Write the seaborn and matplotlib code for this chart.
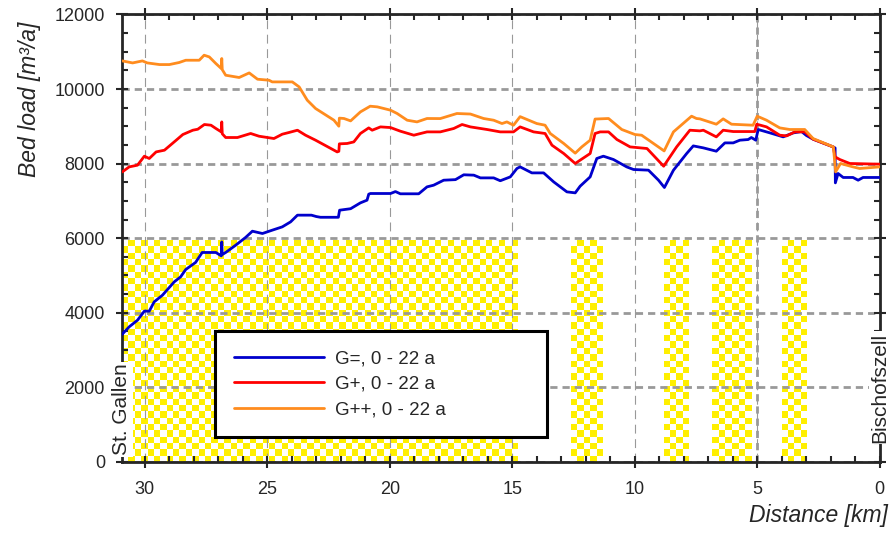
import numpy as np
import matplotlib
matplotlib.use("Agg")
import matplotlib.pyplot as plt
from matplotlib.ticker import MultipleLocator
import seaborn as sns

# distance from Bischofszell [km] and bed load [m3/a]
dist_g0 = [30.92, 30.64, 30.30, 30.02, 29.82, 29.62, 29.28, 28.80, 28.54, 28.33, 27.93, 27.66,
           27.10, 26.88, 26.86, 26.84, 26.70, 26.29, 25.89, 25.61, 25.20, 24.80, 24.39, 24.05,
           23.77, 23.20, 23.00, 22.83, 22.10, 22.05, 21.60, 21.20, 20.93, 20.86, 20.79, 19.97,
           19.77, 19.57, 18.82, 18.48, 18.21, 17.80, 17.32, 16.98, 16.57, 16.30, 15.76, 15.49,
           15.08, 14.81, 14.68, 14.20, 13.72, 13.31, 12.77, 12.43, 12.23, 11.82, 11.55, 11.28,
           10.87, 10.33, 10.05, 9.44, 9.03, 8.79, 8.42, 7.88, 7.61, 7.20, 6.67, 6.32, 5.98,
           5.71, 5.37, 5.24, 5.06, 4.96, 4.48, 3.94, 3.53, 3.19, 2.99, 2.72, 1.90, 1.82, 1.81,
           1.70, 1.49, 1.09, 0.88, 0.68, 0.0]
load_g0 = [3425, 3621, 3800, 4042, 4042, 4291, 4471, 4828, 4962, 5160, 5348, 5616,
           5616, 5525, 5900, 5560, 5616, 5812, 6018, 6187, 6125, 6214, 6303, 6437,
           6617, 6617, 6580, 6560, 6560, 6750, 6790, 6947, 7019, 7180, 7198, 7198,
           7250, 7190, 7190, 7376, 7421, 7555, 7570, 7700, 7690, 7617, 7617, 7540,
           7644, 7869, 7912, 7751, 7751, 7510, 7242, 7215, 7394, 7644, 8137, 8199,
           8110, 7912, 7842, 7824, 7555, 7359, 7823, 8271, 8475, 8422, 8333, 8556, 8556,
           8628, 8646, 8700, 8628, 8915, 8824, 8717, 8824, 8860, 8753, 8655, 8448, 8420, 7483,
           7735, 7628, 7628, 7555, 7628, 7628]

dist_g1 = [30.92, 30.64, 30.30, 30.02, 29.82, 29.54, 29.20, 28.72, 28.45, 28.04, 27.84, 27.57,
           27.30, 27.10, 26.88, 26.86, 26.84, 26.70, 26.22, 25.68, 25.34, 24.73, 24.39, 24.12,
           23.77, 23.44, 23.03, 22.15, 22.08, 22.06, 21.74, 21.47, 21.20, 20.86, 20.72, 20.38,
           19.97, 19.57, 19.02, 18.48, 17.94, 17.39, 17.05, 16.71, 16.03, 15.49, 14.95, 14.68,
           14.13, 13.66, 13.38, 12.90, 12.43, 12.23, 11.82, 11.62, 11.41, 11.07, 10.73, 10.19,
           9.50, 8.82, 8.29, 7.75, 7.34, 7.20, 6.67, 6.39, 5.98, 5.10, 5.02, 4.62, 4.08, 3.80,
           3.46, 3.06, 2.72, 1.90, 1.82, 1.63, 1.22, 0.0]
load_g1 = [7778, 7912, 7958, 8199, 8137, 8314, 8360, 8628, 8780, 8896, 8922, 9049,
           9030, 8942, 8851, 9119, 8800, 8700, 8700, 8808, 8735, 8673, 8789, 8834,
           8896, 8762, 8628, 8314, 8330, 8530, 8540, 8582, 8808, 8958, 8896, 8985,
           8967, 8870, 8762, 8851, 8851, 8942, 9049, 8985, 8915, 8851, 8851, 8985,
           8851, 8808, 8494, 8271, 8003, 8092, 8271, 8808, 8851, 8851, 8647, 8448,
           8405, 7930, 8448, 8896, 8878, 8896, 8717, 8896, 8860, 8860, 9057, 8985, 8762, 8744,
           8851, 8851, 8655, 8448, 8180, 8110, 8003, 7985]

dist_g2 = [30.92, 30.50, 30.10, 29.90, 29.40, 29.00, 28.60, 28.33, 27.78, 27.58, 27.37, 27.10,
           26.88, 26.86, 26.84, 26.70, 26.15, 25.74, 25.40, 24.93, 24.80, 23.98, 23.70, 23.37,
           23.03, 22.28, 22.08, 22.06, 21.87, 21.60, 21.20, 20.80, 20.51, 19.97, 19.70, 19.29,
           18.89, 18.48, 17.94, 17.26, 16.71, 16.17, 15.76, 15.42, 15.22, 14.95, 14.68, 14.00,
           13.66, 13.45, 12.90, 12.43, 12.16, 11.82, 11.62, 11.07, 10.53, 9.99, 9.72, 8.80,
           8.42, 7.95, 7.68, 7.48, 7.34, 6.67, 6.39, 6.05, 5.17, 5.00, 4.62, 4.08, 3.67, 3.06,
           2.72, 1.89, 1.80, 1.60, 1.09, 0.82, 0.0]
load_g2 = [10755, 10701, 10755, 10701, 10657, 10657, 10712, 10773, 10773, 10908, 10862, 10684,
           10551, 10819, 10520, 10371, 10310, 10433, 10264, 10237, 10192, 10192, 10057, 9701,
           9478, 9164, 9003, 9220, 9210, 9146, 9387, 9540, 9522, 9433, 9344, 9164,
           9119, 9210, 9208, 9344, 9330, 9210, 9164, 9075, 9119, 9030, 9260, 9075,
           9030, 8808, 8540, 8280, 8449, 8628, 9195, 9210, 8915, 8780, 8762, 8340,
           8851, 9119, 9272, 9210, 9200, 9057, 9200, 9057, 9030, 9272, 9164, 8958, 8915, 8915,
           8673, 8448, 7778, 8003, 7912, 7869, 7912]

series_labels = ["G=, 0 - 22 a", "G+, 0 - 22 a", "G++, 0 - 22 a"]
series_colors = ["#0000CC", "#FF0000", "#FF8C1E"]

# reaches marked with the yellow checker pattern [km from, km to]
reach_start = [30.95, 12.6, 8.8, 6.85, 4.0]
reach_end = [14.8, 11.3, 7.8, 5.25, 3.0]
reach_top = 5950

x_ticks = [30, 25, 20, 15, 10, 5, 0]
y_ticks = [0, 2000, 4000, 6000, 8000, 10000, 12000]

sns.set_style("ticks")
plt.rcParams["font.family"] = ["Liberation Sans", "DejaVu Sans"]


def checker(ax, x0, x1, y0, y1, cw=0.261, ch=172.0):
    nx = max(1, int(round(abs(x1 - x0) / cw)))
    ny = max(1, int(round((y1 - y0) / ch)))
    mask = np.add.outer(np.arange(ny), np.arange(nx)) % 2
    yellow = np.array([1.0, 0.94, 0.0])
    white = np.array([1.0, 1.0, 1.0])
    rgb = np.where(mask[..., None] == 1, yellow, white)
    ax.imshow(rgb, extent=(x0, x1, y0, y1), origin="lower", aspect="auto",
              interpolation="nearest", zorder=0.5)


fig = plt.figure(figsize=(8.94, 5.37), dpi=100)
ax = fig.add_axes([0.136, 0.140, 0.848, 0.833])

for a, b in zip(reach_start, reach_end):
    checker(ax, a, b, 0, reach_top)

for d, v, lab, col in zip([dist_g0, dist_g1, dist_g2], [load_g0, load_g1, load_g2],
                          series_labels, series_colors):
    sns.lineplot(x=d, y=v, ax=ax, sort=False, estimator=None, color=col, lw=2,
                 label=lab, zorder=3)

ax.set_xlim(30.95, 0)
ax.set_ylim(0, 12000)
ax.set_xticks(x_ticks)
ax.set_yticks(y_ticks)
ax.xaxis.set_minor_locator(MultipleLocator(1))
ax.yaxis.set_minor_locator(MultipleLocator(500))

ax.yaxis.grid(True, which="major", color="#999999", lw=2, ls=(0, (2.6, 1.8)))
ax.xaxis.grid(True, which="major", color="#999999", lw=0.8, ls=(0, (8, 5)))
ax.axvline(5, color="#999999", lw=2, ls=(0, (2.6, 1.8)), zorder=1.5)
ax.set_axisbelow("line")

for s in ax.spines.values():
    s.set_linewidth(2)
    s.set_visible(True)
ax.tick_params(which="major", direction="inout", length=8, width=1.5,
               top=True, right=True, labelsize=13)
ax.tick_params(which="minor", direction="in", length=4, width=1.5, top=True, right=True)
ax.tick_params(axis="y", which="major", pad=8)
ax.tick_params(axis="x", which="major", pad=10)

ax.set_ylabel("Bed load [m³/a]", style="italic", fontsize=16.5)
ax.yaxis.set_label_coords(-0.106, 0.81)
ax.set_xlabel("Distance [km]", style="italic", fontsize=16.5, ha="right")
ax.xaxis.set_label_coords(1.0106, -0.095)

box = dict(facecolor="white", edgecolor="none", pad=1)
ax.text(0.0, 0.015, "St. Gallen", transform=ax.transAxes, rotation=90, ha="center",
        va="bottom", fontsize=15, bbox=box, zorder=4)
ax.text(1.0, 0.042, "Bischofszell", transform=ax.transAxes, rotation=90, ha="center",
        va="bottom", fontsize=15, bbox=box, zorder=4)

leg = ax.legend(loc="lower left", bbox_to_anchor=(0.123, 0.055, 0.438, 0.25), mode="expand",
                borderaxespad=0, fontsize=13.5, handlelength=4.8, handletextpad=0.6,
                labelspacing=0.45, borderpad=1.0, fancybox=False, framealpha=1)
leg.get_frame().set_edgecolor("black")
leg.get_frame().set_linewidth(2.2)
leg.set_zorder(5)

fig.savefig("out.png", dpi=100)
